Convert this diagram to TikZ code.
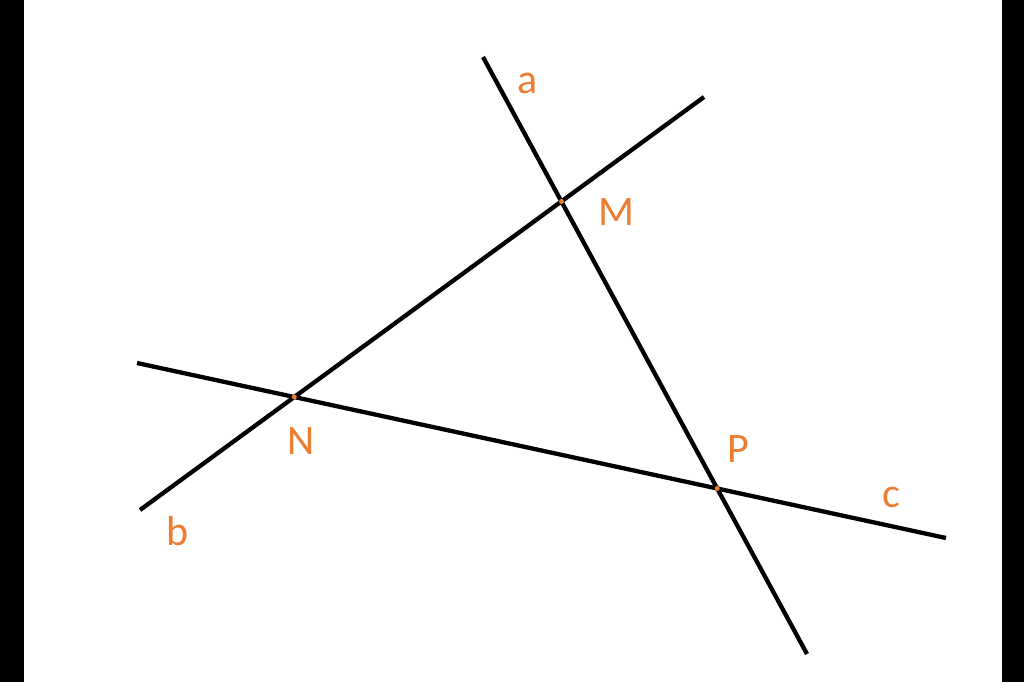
\documentclass[tikz,border=0pt]{standalone}
\usepackage{fontspec}
\setmainfont{Carlito}
\usepackage{xcolor}
\definecolor{lblorange}{HTML}{ED7D31}
\newcommand{\orng}{\color{lblorange}}

\begin{document}
\begin{tikzpicture}[x=1pt,y=-1pt,
        line/.style={line width=4.3pt, black},
        lbl/.style={text=lblorange, font=\fontsize{42}{50}\selectfont, inner sep=0pt},
        pt/.style={fill=lblorange, circle, inner sep=0pt, minimum size=5pt}]
        \useasboundingbox (0,0) rectangle (1024,682);
        \fill[black] (0,0) rectangle (24,682);
        \fill[black] (1002,0) rectangle (1024,682);

        \coordinate (a1) at (483,57);
        \coordinate (a2) at (807,654);
        \coordinate (b1) at (140,510);
        \coordinate (b2) at (704,97);
        \coordinate (c1) at (137,363);
        \coordinate (c2) at (946,538);

        \draw[line] (a1) -- (a2);
        \draw[line] (b1) -- (b2);
        \draw[line] (c1) -- (c2);

        \node[pt] (M) at (intersection of a1--a2 and b1--b2) {};
        \node[pt] (N) at (intersection of b1--b2 and c1--c2) {};
        \node[pt] (P) at (intersection of a1--a2 and c1--c2) {};

        \node[lbl] (la) at (528,83) {a};
        \node[lbl] (lb) at (178,531) {b};
        \node[lbl] (lc) at (891,497) {c};
        \node[lbl] (lM) at (616,212) {M};
        \node[lbl] (lN) at (301,441) {N};
        \node[lbl] (lP) at (738,449) {P};
    \end{tikzpicture}
\end{document}
